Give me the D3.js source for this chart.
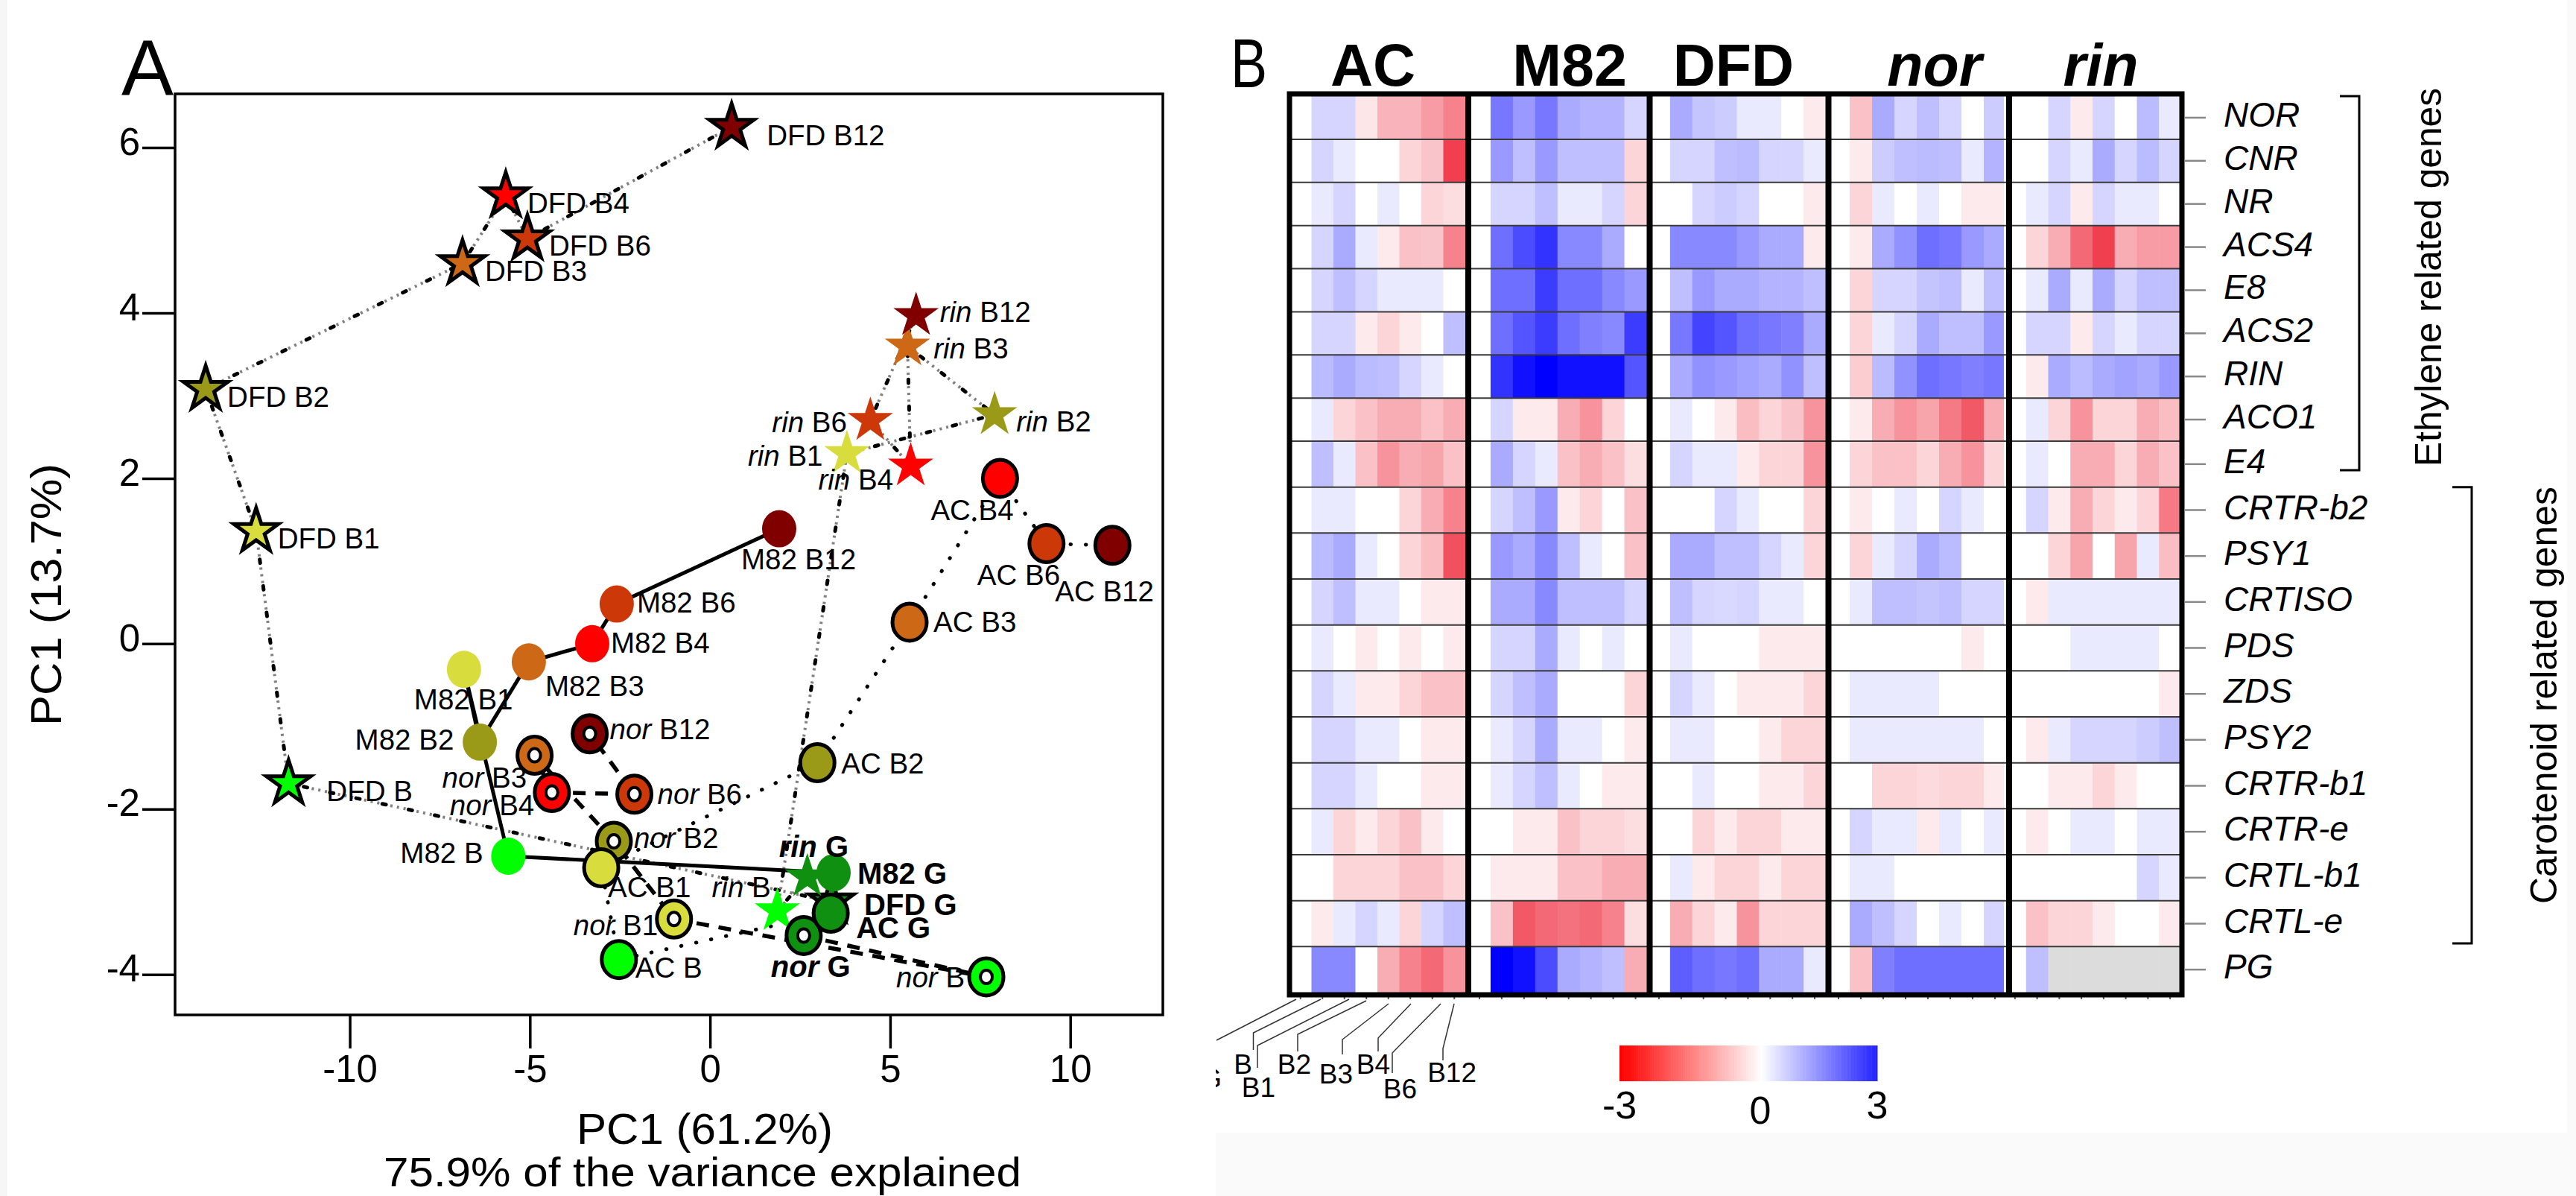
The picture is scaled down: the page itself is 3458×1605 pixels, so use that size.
<!DOCTYPE html>
<html>
<head>
<meta charset="utf-8">
<title>PCA and heat map</title>
<script src="https://cdn.jsdelivr.net/npm/d3@7"></script>
<style>
    html, body { margin: 0; padding: 0; background: #fff; }
    svg { display: block; font-family: "Liberation Sans", Arial, sans-serif; }
</style>
</head>
<body>
<div id="chart"></div>
<script>
// stages, in the order of the ripening series
var stages = ["G", "B", "B1", "B2", "B3", "B4", "B6", "B12"];
var stageColors = ["#109010", "#00ff00", "#d8dc3c", "#9a9a18", "#cc6816", "#ff0000", "#cc3808", "#800000"];

// PCA scores
var dfdX = [3.37, -11.7, -12.6, -14.0, -6.87, -5.67, -5.07, 0.6];
var dfdY = [-3.12, -1.69, 1.36, 3.08, 4.6, 5.42, 4.9, 6.25];
var rinX = [2.7, 1.87, 3.8, 7.9, 5.48, 5.57, 4.45, 5.72];
var rinY = [-2.82, -3.23, 2.3, 2.77, 3.6, 2.15, 2.7, 3.97];
var norX = [2.6, 7.67, -1.0, -2.67, -4.87, -4.39, -2.1, -3.34];
var norY = [-3.53, -4.03, -3.33, -2.39, -1.35, -1.8, -1.82, -1.09];
var m82X = [3.43, -5.6, -6.83, -6.39, -5.03, -3.27, -2.59, 1.92];
var m82Y = [-2.77, -2.57, -0.31, -1.19, -0.22, 0.0, 0.48, 1.39];
var acX = [3.35, -2.53, -3.02, 2.98, 5.54, 8.05, 9.34, 11.17];
var acY = [-3.26, -3.82, -2.71, -1.44, 0.26, 2.0, 1.21, 1.19];

var pcaXTicks = [-10, -5, 0, 5, 10];
var pcaYTicks = [-4, -2, 0, 2, 4, 6];

// heat map
var genes = ["NOR", "CNR", "NR", "ACS4", "E8", "ACS2", "RIN", "ACO1", "E4", "CRTR-b2", "PSY1", "CRTISO",
    "PDS", "ZDS", "PSY2", "CRTR-b1", "CRTR-e", "CRTL-b1", "CRTL-e", "PG"];
var panelNames = ["AC", "M82", "DFD", "nor", "rin"];

var heatAC = [
    [0, .5, .5, -.3, -.9, -.9, -1.2, -1.5],
    [0, .5, .25, 0, 0, -.5, -.7, -2.3],
    [0, .25, .5, 0, .25, 0, -.5, -.4],
    [0, .5, 1, .25, -.25, -.75, -.7, -1.5],
    [0, .5, .75, .5, .25, .25, .25, 0],
    [0, .5, .5, -.25, -.5, -.25, 0, .75],
    [0, .8, 1, .8, .75, .5, .25, 0],
    [0, .25, -.5, -.75, -1, -1, -.75, -1],
    [0, .75, .25, -.75, -1.3, -1, -1.1, -.75],
    [0, .25, .25, 0, 0, -.5, -1, -1.5],
    [0, .8, 1, .25, 0, -.5, -.8, -2.1],
    [0, .5, .75, .25, .25, 0, -.25, -.25],
    [0, .25, 0, -.25, 0, -.25, 0, -.25],
    [0, .5, .25, -.25, -.25, -.5, -.75, -.75],
    [0, .5, .5, .25, .25, 0, -.25, -.25],
    [0, .5, .5, .25, 0, 0, -.25, -.25],
    [0, .25, -.5, -.25, -.5, -.75, -.25, 0],
    [0, 0, -.5, -.5, -.5, -.75, -.75, -.5],
    [0, -.25, .25, .5, .25, -.5, .5, .75],
    [0, 1.4, 1.4, 0, -1, -1.5, -1.8, -1.3]
];
var heatM82 = [
    [0, 1.6, 1.2, 1.6, 1, .9, .9, .5],
    [0, 1.2, .75, 1.2, .75, .75, .75, -.5],
    [0, .5, .5, .75, .25, .25, .5, -.5],
    [0, 1.7, 2.1, 2.4, 1.4, 1.4, 1, 0],
    [0, 1.7, 1.7, 2.3, 1.7, 1.7, 1.4, 1.2],
    [0, 1.7, 2.0, 2.3, 1.7, 1.5, 1.4, 2.3],
    [0, 2.4, 2.8, 3, 2.8, 2.8, 2.8, 2.0],
    [0, .5, -.25, -.25, -1, -1.3, -.5, 0],
    [0, 1, .5, .25, -.75, -1, -.75, -.4],
    [0, .5, .75, 1.2, -.25, -.5, 0, -.75],
    [0, 1.2, 1, 1.4, .75, .25, 0, -.75],
    [0, 1, 1, 1.4, .75, .75, .75, .5],
    [0, .5, .5, 1, .25, 0, .25, 0],
    [0, .5, .75, 1, 0, 0, 0, -.5],
    [0, .25, .5, 1, .25, .25, 0, -.25],
    [0, .25, .5, .75, .25, 0, -.25, -.25],
    [0, 0, -.25, -.25, -.75, -.5, -.5, -.4],
    [0, -.25, -.25, -.25, -.75, -.75, -1, -1],
    [0, -.75, -2, -1.8, -1.7, -1.8, -1.5, -.4],
    [0, 3, 2.8, 2.1, 1, .9, .75, -1]
];
var heatDFD = [
    [0, 1, .7, .6, .25, .25, 0, -.25],
    [0, .5, .5, .75, .8, .5, .5, .25],
    [0, 0, .5, .6, .5, 0, 0, -.25],
    [0, 1.4, 1.4, 1.4, 1.2, 1, 1, -.25],
    [0, .75, 1.2, 1, 1, .9, .9, .75],
    [0, 1.6, 2.2, 2, 1.7, 1.6, 1.5, 1],
    [0, 1, 1.3, 1.2, 1.1, 1, 1.3, .75],
    [0, .25, 0, -.25, -.8, -.5, -.7, -1.3],
    [0, .5, .25, .25, -.25, -.5, -.5, -1.3],
    [0, 0, 0, .5, .25, 0, 0, -.5],
    [0, 1, 1, .75, .75, .5, .25, -.5],
    [0, .75, .5, .45, .5, .25, .25, 0],
    [0, .25, 0, 0, 0, -.25, -.25, -.25],
    [0, .5, .25, 0, -.25, -.25, -.25, -.5],
    [0, .25, .25, 0, 0, -.25, -.5, -.5],
    [0, 0, .25, 0, 0, -.25, -.25, -.5],
    [0, 0, -.5, -.25, -.5, -.5, -.25, -.25],
    [0, .25, -.25, -.5, -.5, -.25, -.5, -.5],
    [0, -1, -.5, -.25, -1.3, -.5, -.5, -.5],
    [0, 1.9, 1.7, 1.6, 1.7, 1, 1, .25]
];
var heatNor = [
    [0, -.75, 1, .5, .75, .5, 0, .6],
    [0, -.25, .6, .75, .8, .75, .25, .9],
    [0, -.5, .25, 0, .25, 0, -.25, -.25],
    [0, -.25, 1, 1.3, 1.7, 1.6, 1.2, 1],
    [0, -.5, .5, .5, .7, .75, .25, .75],
    [0, -.5, .25, .5, 1, .75, .75, 1.2],
    [0, -.6, .8, 1.3, 1.7, 1.6, 1.5, 1.6],
    [0, -.25, -1, -1.3, -1.1, -1.6, -2, -1],
    [0, -.5, -.75, -.75, -.5, -1, -1.3, -.5],
    [0, -.25, 0, .25, 0, .5, .25, 0],
    [0, -.5, .25, .5, 1, .8, 0, 0],
    [0, .25, .75, .75, .7, .75, .5, .5],
    [0, 0, 0, 0, 0, 0, -.25, 0],
    [0, .25, .25, .25, .25, 0, 0, 0],
    [0, .25, .25, .25, .25, .25, .25, 0],
    [0, 0, -.5, -.5, -.45, -.5, -.5, -.25],
    [0, .5, .25, .25, -.25, .25, 0, .25],
    [0, .25, .25, 0, 0, 0, 0, 0],
    [0, 1, .75, .5, 0, .25, 0, .5],
    [0, -.75, 1.5, 1.7, 1.7, 1.7, 1.7, 1.7]
];
var heatRin = [
    [0, 0, .5, -.25, .5, 0, .8, .25],
    [0, 0, .5, .25, 1, .5, .8, .5],
    [0, .25, .5, -.25, .5, .25, .25, 0],
    [0, -.5, -1, -1.8, -2.3, -1, -1.2, -1.2],
    [0, .25, 1, .25, 1, .5, .75, .75],
    [0, .5, .5, -.25, .5, .25, .5, .5],
    [0, -.25, 1, .8, 1, 1.1, 1, 1.2],
    [0, .25, -.5, -1.3, -.5, -.5, -1, -.8],
    [0, .25, 0, -1, -1, -.5, -1, -.75],
    [0, .5, -.25, -1, -.5, -.25, -.5, -1.6],
    [0, 0, -.5, -1.1, 0, -1.1, .25, -.8],
    [0, -.25, .25, .25, .25, .25, .25, .25],
    [0, 0, 0, .25, .25, .25, .25, 0],
    [0, 0, 0, 0, 0, 0, 0, -.25],
    [0, -.25, .25, .5, .5, .5, .6, .75],
    [0, 0, -.25, -.25, -.5, -.25, 0, 0],
    [0, -.25, 0, .25, .25, 0, .25, .25],
    [0, 0, 0, 0, 0, 0, .5, .25],
    [0, -.75, -.5, -.5, -.25, 0, 0, -.25],
    [0, .75, null, null, null, null, null, null]
];
var colorbarTicks = [-3, 0, 3];

var width = 3458, height = 1605;

var svg = d3.select("#chart").append("svg")
    .attr("width", width)
    .attr("height", height);

// faint scan background around the two panels
svg.append("rect").attr("x", 0).attr("y", 0).attr("width", 10).attr("height", height).attr("fill", "#f6f6f6");
svg.append("rect").attr("x", 1632).attr("y", 1520).attr("width", width - 1632).attr("height", 85).attr("fill", "#fafafa");
svg.append("rect").attr("x", 3446).attr("y", 0).attr("width", 12).attr("height", height).attr("fill", "#fafafa");

/* ---------- Panel A ---------- */
var plot = { left: 235, right: 1561, top: 126, bottom: 1362 };

var x = d3.scaleLinear().domain([-14.85, 12.57]).range([plot.left, plot.right]);
var y = d3.scaleLinear().domain([-4.49, 6.65]).range([plot.bottom, plot.top]);

var panelA = svg.append("g").attr("class", "panelA");

// drawn back to front, the last series sits on top
var series = [
    { name: "DFD", xs: dfdX, ys: dfdY, line: "dashdot", marker: "star", stroke: true,
        dx: [44, 51, 29, 29, 30, 29, 29, 47], dy: [18, 24, 23, 24, 23.5, 24, 23, 24.5] },
    { name: "rin", xs: rinX, ys: rinY, line: "dashdot", marker: "star", stroke: false,
        dx: [-38, -88, -133, 29, 35, -124, -132, 32], dy: [-27, -18, 16.5, 23, 17, 32, 16, 9] },
    { name: "nor", xs: norX, ys: norY, line: "dashed", marker: "ring", stroke: true,
        dx: [-44, -121, -135, 27, -124, -137, 31, 27], dy: [56, 14, 22, 9, 43, 30, 13, 7] },
    { name: "M82", xs: m82X, ys: m82Y, line: "solid", marker: "circle", stroke: false,
        dx: [32, -145, -67, -167.5, 22, 25, 27, -51], dy: [15, 9, 54, 10, 46, 12, 11.5, 54] },
    { name: "AC", xs: acX, ys: acY, line: "dotted", marker: "circle", stroke: true,
        dx: [34, 22, 9, 32, 32, -93, -93, -77], dy: [33, 24, 39, 14, 13, 56, 55, 75] }
];

var line = d3.line().x(d => x(d[0])).y(d => y(d[1]));

series.forEach(function (s) {
    var points = s.xs.map((v, i) => [v, s.ys[i]]);
    var path = panelA.append("g").attr("class", "line-" + s.name);
    if (s.line === "solid") {
        path.append("path").attr("d", line(points))
            .attr("fill", "none").attr("stroke", "#000").attr("stroke-width", 5);
    } else if (s.line === "dotted") {
        path.append("path").attr("d", line(points))
            .attr("fill", "none").attr("stroke", "#000").attr("stroke-width", 5)
            .attr("stroke-linecap", "round").attr("stroke-dasharray", "0.5,20");
    } else if (s.line === "dashed") {
        path.append("path").attr("d", line(points))
            .attr("fill", "none").attr("stroke", "#000").attr("stroke-width", 5.5)
            .attr("stroke-dasharray", "17,13");
    } else {
        // grey dots with a black dash every so often
        path.append("path").attr("d", line(points))
            .attr("fill", "none").attr("stroke", "#808080").attr("stroke-width", 4)
            .attr("stroke-dasharray", "3,6");
        path.append("path").attr("d", line(points))
            .attr("fill", "none").attr("stroke", "#000").attr("stroke-width", 5)
            .attr("stroke-linecap", "round").attr("stroke-dasharray", "5,31");
    }
});

var star = d3.symbol().type(d3.symbolStar);

series.forEach(function (s) {
    var g = panelA.append("g").attr("class", "markers-" + s.name);
    var marks = g.selectAll("g").data(stages).enter().append("g")
        .attr("transform", (d, i) => `translate(${x(s.xs[i])},${y(s.ys[i])})`);
    if (s.marker === "star") {
        marks.append("path")
            .attr("d", star.size(s.stroke ? 1100 : 1150)())
            .attr("fill", (d, i) => stageColors[i])
            .attr("stroke", s.stroke ? "#000" : "none")
            .attr("stroke-width", 5);
    } else {
        marks.append("ellipse")
            .attr("rx", 23).attr("ry", 25)
            .attr("fill", (d, i) => stageColors[i])
            .attr("stroke", s.stroke ? "#000" : "none")
            .attr("stroke-width", 5);
    }
    if (s.marker === "ring") {
        marks.append("ellipse")
            .attr("rx", 8).attr("ry", 9)
            .attr("fill", "#fff").attr("stroke", "#000").attr("stroke-width", 4);
    }
});

series.forEach(function (s) {
    var labels = panelA.append("g").attr("class", "labels-" + s.name)
        .selectAll("text").data(stages).enter().append("text")
        .attr("x", (d, i) => x(s.xs[i]) + s.dx[i])
        .attr("y", (d, i) => y(s.ys[i]) + s.dy[i])
        .style("font-size", d => d === "G" ? "40px" : "38.5px")
        .style("font-weight", d => d === "G" ? "bold" : "normal");
    labels.append("tspan")
        .style("font-style", s.name === "rin" || s.name === "nor" ? "italic" : "normal")
        .text(s.name);
    labels.append("tspan").text(d => " " + d);
});

panelA.append("rect")
    .attr("x", plot.left).attr("y", plot.top)
    .attr("width", plot.right - plot.left).attr("height", plot.bottom - plot.top)
    .attr("fill", "none").attr("stroke", "#000").attr("stroke-width", 3.5);

var xAxis = panelA.append("g")
    .attr("transform", `translate(0,${plot.bottom})`)
    .call(d3.axisBottom(x).tickValues(pcaXTicks).tickSize(45).tickPadding(9).tickFormat(d => String(d)));
var yAxis = panelA.append("g")
    .attr("transform", `translate(${plot.left},0)`)
    .call(d3.axisLeft(y).tickValues(pcaYTicks).tickSize(44).tickPadding(3).tickFormat(d => String(d)));
[xAxis, yAxis].forEach(function (axis) {
    axis.select(".domain").remove();
    axis.selectAll("line").attr("stroke", "#000").attr("stroke-width", 3.5);
    axis.selectAll("text").attr("fill", "#000")
        .style("font-family", "'Liberation Sans'").style("font-size", "51px");
});
yAxis.selectAll("text").attr("dy", "0.18em");

panelA.append("text").attr("x", 946).attr("y", 1535).attr("text-anchor", "middle")
    .attr("textLength", 344).attr("lengthAdjust", "spacingAndGlyphs")
    .style("font-size", "57px").text("PC1 (61.2%)");
panelA.append("text").attr("x", 943).attr("y", 1592).attr("text-anchor", "middle")
    .attr("textLength", 856).attr("lengthAdjust", "spacingAndGlyphs")
    .style("font-size", "56px").text("75.9% of the variance explained");
panelA.append("text")
    .attr("transform", "translate(82,798) rotate(-90)").attr("text-anchor", "middle")
    .attr("textLength", 352).attr("lengthAdjust", "spacingAndGlyphs")
    .style("font-size", "57px").text("PC1 (13.7%)");
panelA.append("text").attr("x", 163).attr("y", 127).style("font-size", "105px").text("A");

/* ---------- Panel B ---------- */
var heat = { left: 1734, right: 2926, top: 129, bottom: 1332 };
// the first column of each panel runs in under the separator on its left
var panelEdges = [[1731, 1967], [1971, 2210.5], [2212, 2451], [2453, 2693], [2690, 2928]];
var panelRows = [heatAC, heatM82, heatDFD, heatNor, heatRin];
var separators = [1971, 2214.5, 2454.5, 2697];
var titleCenters = [1843, 2107, 2327, 2597, 2820];

// the rows of the upper block are slightly shorter than those of the lower one
var rowY = d3.scaleLinear().domain([0, 8, genes.length]).range([heat.top, 592, heat.bottom]);
var heatColor = d3.scaleLinear()
    .domain([-3, -2.3, 0, 3])
    .range(["#ff0000", "#f04050", "#ffffff", "#0000ff"]);

var panelB = svg.append("g").attr("class", "panelB");

panelRows.forEach(function (rows, p) {
    var col = d3.scaleBand().domain(stages).range(panelEdges[p]);
    var row = panelB.append("g").attr("class", "panel-" + panelNames[p])
        .selectAll("g").data(rows).enter().append("g");
    row.selectAll("rect")
        .data((d, i) => d.map((v, j) => ({ value: v, stage: stages[j], row: i })))
        .enter().append("rect")
        .attr("x", d => col(d.stage))
        .attr("y", d => rowY(d.row))
        .attr("width", col.bandwidth() + 0.5)
        .attr("height", d => rowY(d.row + 1) - rowY(d.row))
        .attr("fill", d => d.value === null ? "#dcdcdc" : heatColor(d.value));

    // small ticks under the frame, one per column
    panelB.append("g").selectAll("line").data(stages).enter().append("line")
        .attr("x1", d => col(d) + col.bandwidth() / 2)
        .attr("x2", d => col(d) + col.bandwidth() / 2)
        .attr("y1", heat.bottom + 4).attr("y2", heat.bottom + 9)
        .attr("stroke", "#555").attr("stroke-width", 2);
});

panelB.append("g").selectAll("line").data(d3.range(1, genes.length)).enter().append("line")
    .attr("x1", heat.left).attr("x2", heat.right)
    .attr("y1", d => rowY(d)).attr("y2", d => rowY(d))
    .attr("stroke", "#3a3a3a").attr("stroke-width", 2);

panelB.append("g").selectAll("line").data(separators).enter().append("line")
    .attr("x1", d => d).attr("x2", d => d)
    .attr("y1", heat.top).attr("y2", heat.bottom)
    .attr("stroke", "#000").attr("stroke-width", 8);

panelB.append("rect")
    .attr("x", heat.left - 3).attr("y", heat.top - 3)
    .attr("width", heat.right - heat.left + 6).attr("height", heat.bottom - heat.top + 6)
    .attr("fill", "none").attr("stroke", "#000").attr("stroke-width", 7);

panelB.append("g").selectAll("text").data(panelNames).enter().append("text")
    .attr("x", (d, i) => titleCenters[i])
    .attr("y", 115)
    .attr("text-anchor", "middle")
    .style("font-size", "79px")
    .style("font-weight", "bold")
    .style("font-style", d => d === "nor" || d === "rin" ? "italic" : "normal")
    .text(d => d);
panelB.append("text")
    .attr("transform", "translate(1652,117) scale(0.8,1)")
    .style("font-size", "92px").text("B");

// gene names on the right
var rowCenter = i => (rowY(i) + rowY(i + 1)) / 2;
panelB.append("g").selectAll("line").data(genes).enter().append("line")
    .attr("x1", heat.right + 6).attr("x2", 2961)
    .attr("y1", (d, i) => rowCenter(i)).attr("y2", (d, i) => rowCenter(i))
    .attr("stroke", "#888").attr("stroke-width", 2.5);
panelB.append("g").selectAll("text").data(genes).enter().append("text")
    .attr("x", 2985)
    .attr("y", (d, i) => rowCenter(i) + 12)
    .style("font-size", "46px")
    .style("font-style", "italic")
    .text(d => d);

// brackets for the two gene groups
var brackets = [
    { from: 0, to: 9, x: 3167, tick: 26, text: "Ethylene related genes", textX: 3277, textY: 372, length: 508, bottom: 631 },
    { from: 9, to: 19, x: 3318, tick: 26, text: "Carotenoid related genes", textX: 3432, textY: 933, length: 560, bottom: 1266 }
];
brackets.forEach(function (b) {
    var top = rowY(b.from);
    panelB.append("path")
        .attr("d", `M${b.x - b.tick},${top}H${b.x}V${b.bottom}H${b.x - b.tick}`)
        .attr("fill", "none").attr("stroke", "#000").attr("stroke-width", 3);
    panelB.append("text")
        .attr("transform", `translate(${b.textX},${b.textY}) rotate(-90)`)
        .attr("text-anchor", "middle")
        .attr("textLength", b.length)
        .attr("lengthAdjust", "spacingAndGlyphs")
        .style("font-size", "50px")
        .text(b.text);
});

// the key below the first panel, with its fanned out leader lines
var leaders = [
    { text: "G", tx: 1640, ty: 1460, d: "M1740,1341L1633,1396" },
    { text: "B", tx: 1681, ty: 1441, d: "M1773,1341L1682.5,1386V1409" },
    { text: "B1", tx: 1712, ty: 1472, d: "M1811,1341L1688,1403V1433" },
    { text: "B2", tx: 1760, ty: 1441, d: "M1834,1343L1742,1388V1411" },
    { text: "B3", tx: 1816, ty: 1454, d: "M1864,1347L1802,1395V1415" },
    { text: "B4", tx: 1866, ty: 1441, d: "M1894,1347L1850,1393V1411" },
    { text: "B6", tx: 1902, ty: 1474, d: "M1934,1347L1869,1413V1440" },
    { text: "B12", tx: 1982, ty: 1452, d: "M1952,1347L1937,1407V1423" }
];
svg.append("clipPath").attr("id", "keyClip").append("rect")
    .attr("x", 1632).attr("y", 1330).attr("width", 500).attr("height", 200);
var key = panelB.append("g").attr("class", "key").attr("clip-path", "url(#keyClip)");
key.selectAll("path").data(leaders).enter().append("path")
    .attr("d", d => d.d).attr("fill", "none").attr("stroke", "#333").attr("stroke-width", 1.5);
key.selectAll("text").data(leaders).enter().append("text")
    .attr("x", d => d.tx).attr("y", d => d.ty)
    .attr("text-anchor", "end")
    .style("font-size", "37px")
    .text(d => d.text);

// colour bar
var barX = d3.scaleLinear().domain([-3, 0, 3]).range([2174, 2363, 2520]);
var barColor = d3.scaleLinear().domain([-3, 0, 3]).range(["#ff0000", "#ffffff", "#2020ff"]);
var barSteps = d3.range(-3, 3, 0.05);
panelB.append("g").selectAll("rect").data(barSteps).enter().append("rect")
    .attr("x", d => barX(d))
    .attr("y", 1403)
    .attr("width", d => barX(d + 0.05) - barX(d) + 0.5)
    .attr("height", 48)
    .attr("fill", d => barColor(d));
panelB.append("g").selectAll("text").data(colorbarTicks).enter().append("text")
    .attr("x", d => barX(d))
    .attr("y", d => d === 0 ? 1508 : 1501)
    .attr("text-anchor", "middle")
    .style("font-size", "52px")
    .text(d => d);
</script>
</body>
</html>
